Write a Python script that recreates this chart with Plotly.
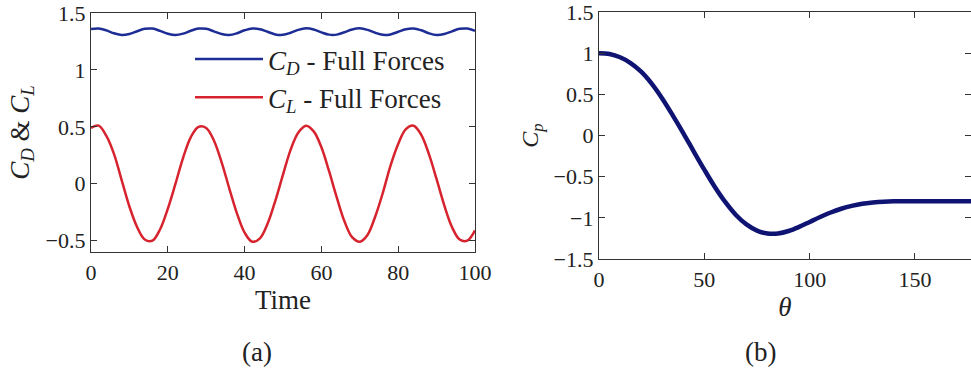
import plotly.graph_objects as go

# ---- data ----
time = list(range(0, 101, 2))
cd_full = [1.359, 1.364, 1.347, 1.322, 1.307, 1.316, 1.340, 1.361, 1.363, 1.343,
           1.318, 1.307, 1.319, 1.344, 1.363, 1.361, 1.339, 1.315, 1.307, 1.322,
           1.348, 1.364, 1.358, 1.335, 1.312, 1.308, 1.326, 1.352, 1.365, 1.355,
           1.330, 1.310, 1.310, 1.331, 1.355, 1.365, 1.352, 1.326, 1.308, 1.312,
           1.335, 1.358, 1.364, 1.348, 1.322, 1.307, 1.315, 1.339, 1.361, 1.363,
           1.344]
cl_full = [0.49, 0.51, 0.42, 0.26, 0.03, -0.20, -0.38, -0.49, -0.50, -0.40,
           -0.22, 0.00, 0.23, 0.41, 0.50, 0.49, 0.38, 0.19, -0.04, -0.26,
           -0.43, -0.51, -0.48, -0.35, -0.15, 0.08, 0.30, 0.45, 0.51, 0.46,
           0.32, 0.11, -0.12, -0.33, -0.47, -0.51, -0.45, -0.29, -0.08, 0.16,
           0.35, 0.48, 0.51, 0.43, 0.26, 0.04, -0.19, -0.38, -0.49, -0.50,
           -0.41]
theta = list(range(0, 181, 5))
cp = [1.00, 0.99, 0.95, 0.88, 0.775, 0.63, 0.45, 0.245, 0.03, -0.195, -0.415,
      -0.625, -0.81, -0.965, -1.08, -1.155, -1.19, -1.19, -1.16, -1.11, -1.05,
      -0.99, -0.935, -0.89, -0.855, -0.83, -0.815, -0.805, -0.80, -0.80, -0.80,
      -0.80, -0.80, -0.80, -0.80, -0.80, -0.80]

left_xticks = [0, 20, 40, 60, 80, 100]
left_yticks = [-0.5, 0, 0.5, 1, 1.5]
left_ylabels = ["\u22120.5", "0", "0.5", "1", "1.5"]
right_xticks = [0, 50, 100, 150]
right_yticks = [-1.5, -1, -0.5, 0, 0.5, 1, 1.5]
right_ylabels = ["\u22121.5", "\u22121", "\u22120.5", "0", "0.5", "1", "1.5"]

W, H = 971, 369
FONT = "Liberation Serif"
BLUE = "rgb(30,45,150)"
RED = "rgb(215,35,45)"
NAVY = "rgb(15,20,115)"
AX = "#333333"
TXT = "#222222"

fig = go.Figure()
fig.add_trace(go.Scatter(x=time, y=cd_full, mode="lines", line=dict(color=BLUE, width=2.5, shape="spline"),
                         name="<i>C</i><sub><i>D</i></sub> - Full Forces", xaxis="x", yaxis="y"))
fig.add_trace(go.Scatter(x=time, y=cl_full, mode="lines", line=dict(color=RED, width=2.5, shape="spline"),
                         name="<i>C</i><sub><i>L</i></sub> - Full Forces", xaxis="x", yaxis="y"))
fig.add_trace(go.Scatter(x=theta, y=cp, mode="lines", line=dict(color=NAVY, width=4.5, shape="spline"),
                         showlegend=False, xaxis="x2", yaxis="y2"))

common = dict(showgrid=False, zeroline=False, showline=True, linecolor=AX, linewidth=1.3,
              ticks="inside", ticklen=6, tickcolor=AX, tickwidth=1.2, mirror="ticks", automargin=False,
              ticklabeloverflow="allow", tickfont=dict(family=FONT, size=22, color=TXT))

fig.update_layout(
    width=W, height=H, margin=dict(l=0, r=0, t=0, b=0),
    paper_bgcolor="white", plot_bgcolor="white",
    font=dict(family=FONT, size=22, color=TXT),
    xaxis=dict(common, domain=[91 / W, 475 / W], range=[0, 100], tickvals=left_xticks,
               anchor="y", title=dict(text="Time", font=dict(family=FONT, size=27, color=TXT), standoff=4)),
    yaxis=dict(common, domain=[1 - 252 / H, 1 - 13 / H], range=[-0.6, 1.5001], tickvals=left_yticks,
               ticktext=left_ylabels, anchor="x",
               title=dict(text="<i>C</i><sub><i>D</i></sub> &amp; <i>C</i><sub><i>L</i></sub>",
                          font=dict(family=FONT, size=27, color=TXT), standoff=8)),
    xaxis2=dict(common, domain=[599 / W, 1.0], range=[0, 176.6], tickvals=right_xticks,
                anchor="y2", title=dict(text="<i>\u03b8</i>", font=dict(family=FONT, size=27, color=TXT), standoff=6)),
    yaxis2=dict(common, domain=[1 - 259 / H, 1 - 12 / H], range=[-1.5001, 1.5001], tickvals=right_yticks,
                ticktext=right_ylabels, anchor="x2",
                title=dict(text="<i>C</i><sub><i>p</i></sub>", font=dict(family=FONT, size=24, color=TXT), standoff=8)),
    legend=dict(x=190 / W, y=1 - 35 / H, xanchor="left", yanchor="top", bgcolor="rgba(0,0,0,0)",
                font=dict(family=FONT, size=27, color=TXT), itemwidth=68, tracegroupgap=0),
    showlegend=True,
    annotations=[
        dict(text="(a)", x=257 / W, y=1 - 352 / H, xref="paper", yref="paper", showarrow=False,
             xanchor="center", yanchor="middle", font=dict(family=FONT, size=27, color=TXT)),
        dict(text="(b)", x=760 / W, y=1 - 352 / H, xref="paper", yref="paper", showarrow=False,
             xanchor="center", yanchor="middle", font=dict(family=FONT, size=27, color=TXT)),
    ],
)

fig.write_html("out.html")
